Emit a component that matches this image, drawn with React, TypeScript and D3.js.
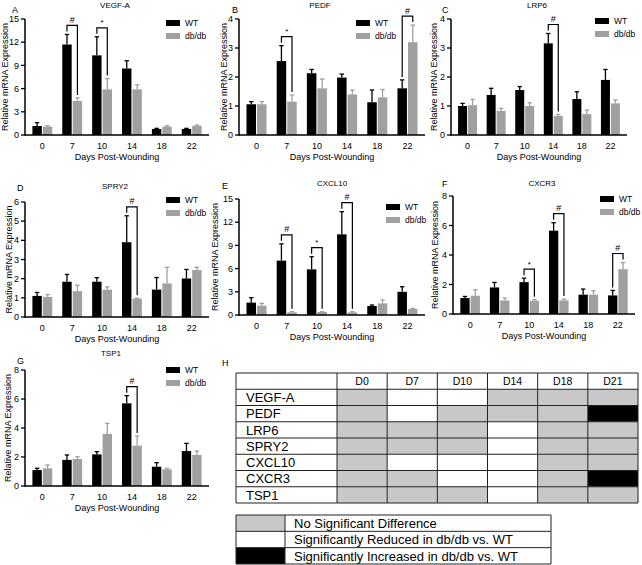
import * as d3 from "d3";

const FONT = "Liberation Sans, Arial, sans-serif";
const DAYS = ["0", "7", "10", "14", "18", "22"];
const GROUPS = ["WT", "db/db"];
const WT_COLOR = "#000000";
const DB_COLOR = "#a0a0a0";

// means and SEM (relative mRNA expression)
const vegfWT = [1.16, 11.7, 10.3, 8.6, 0.78, 0.78];
const vegfWTSem = [0.44, 1.3, 2.4, 1.0, 0.08, 0.08];
const vegfDB = [1.08, 4.4, 5.9, 5.9, 1.08, 1.2];
const vegfDBSem = [0.12, 0.4, 1.4, 0.6, 0.12, 0.1];
const vegfSig = ["", "#", "*", "", "", ""];

const pedfWT = [1.06, 2.55, 2.13, 1.98, 1.13, 1.61];
const pedfWTSem = [0.09, 0.53, 0.13, 0.12, 0.42, 0.29];
const pedfDB = [1.06, 1.15, 1.61, 1.4, 1.3, 3.2];
const pedfDBSem = [0.09, 0.23, 0.32, 0.15, 0.27, 0.59];
const pedfSig = ["", "*", "", "", "", "#"];

const lrp6WT = [1.0, 1.38, 1.55, 3.16, 1.24, 1.9];
const lrp6WTSem = [0.09, 0.23, 0.12, 0.34, 0.25, 0.36];
const lrp6DB = [1.03, 0.83, 1.0, 0.66, 0.72, 1.09];
const lrp6DBSem = [0.2, 0.09, 0.11, 0.05, 0.14, 0.12];
const lrp6Sig = ["", "", "", "#", "", ""];

const spry2WT = [1.1, 1.84, 1.84, 3.9, 1.43, 2.01];
const spry2WTSem = [0.18, 0.38, 0.21, 1.38, 0.63, 0.47];
const spry2DB = [1.05, 1.35, 1.43, 0.96, 1.75, 2.45];
const spry2DBSem = [0.12, 0.31, 0.14, 0.02, 0.84, 0.14];
const spry2Sig = ["", "", "", "#", "", ""];

const cxcl10WT = [1.6, 7.03, 5.9, 10.43, 1.16, 3.0];
const cxcl10WTSem = [0.64, 2.17, 1.64, 2.93, 0.13, 0.66];
const cxcl10DB = [1.2, 0.34, 0.39, 0.34, 1.5, 0.78];
const cxcl10DBSem = [0.3, 0.09, 0.04, 0.09, 0.44, 0.08];
const cxcl10Sig = ["", "#", "*", "#", "", ""];

const cxcr3WT = [1.08, 1.8, 2.16, 5.65, 1.31, 1.26];
const cxcr3WTSem = [0.11, 0.34, 0.27, 0.54, 0.38, 0.34];
const cxcr3DB = [1.24, 0.92, 0.9, 0.92, 1.31, 3.04];
const cxcr3DBSem = [0.4, 0.16, 0.07, 0.09, 0.27, 0.45];
const cxcr3Sig = ["", "", "*", "#", "", "#"];

const tsp1WT = [1.1, 1.8, 2.18, 5.7, 1.33, 2.41];
const tsp1WTSem = [0.12, 0.34, 0.19, 0.53, 0.28, 0.53];
const tsp1DB = [1.22, 1.86, 3.59, 2.78, 1.15, 2.14];
const tsp1DBSem = [0.23, 0.16, 0.73, 0.67, 0.07, 0.27];
const tsp1Sig = ["", "", "", "#", "", ""];

// summary table (H)
const TABLE_DAYS = ["D0", "D7", "D10", "D14", "D18", "D21"];
const GENES = ["VEGF-A", "PEDF", "LRP6", "SPRY2", "CXCL10", "CXCR3", "TSP1"];
const statusVEGF = ["ns", "down", "down", "ns", "ns", "ns"];
const statusPEDF = ["ns", "down", "ns", "ns", "ns", "up"];
const statusLRP6 = ["ns", "ns", "ns", "down", "ns", "ns"];
const statusSPRY2 = ["ns", "ns", "ns", "down", "ns", "ns"];
const statusCXCL10 = ["ns", "down", "down", "down", "ns", "ns"];
const statusCXCR3 = ["ns", "ns", "down", "down", "ns", "up"];
const statusTSP1 = ["ns", "ns", "ns", "down", "ns", "ns"];
const STATUS_KEYS = ["ns", "down", "up"];
const STATUS_LABELS = [
  "No Significant Difference",
  "Significantly Reduced in db/db vs. WT",
  "Significantly Increased in db/db vs. WT",
];
const statusColor = d3.scaleOrdinal<string, string>().domain(STATUS_KEYS).range(["#c8c8c8", "#ffffff", "#000000"]);

type PanelDef = {
  letter: string;
  title: string;
  wt: number[];
  wtSem: number[];
  db: number[];
  dbSem: number[];
  sig: string[];
  max: number;
  step: number;
  x0: number;
  x1: number;
  yTop: number;
  yZero: number;
  legend: [number, number];
  letterPos: [number, number];
  titlePos: [number, number];
  yLabelX: number;
};

const PANELS: PanelDef[] = [
  { letter: "A", title: "VEGF-A", wt: vegfWT, wtSem: vegfWTSem, db: vegfDB, dbSem: vegfDBSem, sig: vegfSig,
    max: 15, step: 3, x0: 25, x1: 209, yTop: 19, yZero: 135, legend: [166, 20], letterPos: [12, 13], titlePos: [115, 8], yLabelX: 8 },
  { letter: "B", title: "PEDF", wt: pedfWT, wtSem: pedfWTSem, db: pedfDB, dbSem: pedfDBSem, sig: pedfSig,
    max: 4, step: 1, x0: 239, x1: 425, yTop: 19, yZero: 135, legend: [356, 20], letterPos: [232, 13], titlePos: [320, 8], yLabelX: 227 },
  { letter: "C", title: "LRP6", wt: lrp6WT, wtSem: lrp6WTSem, db: lrp6DB, dbSem: lrp6DBSem, sig: lrp6Sig,
    max: 4, step: 1, x0: 451, x1: 627, yTop: 19, yZero: 135, legend: [595, 18], letterPos: [442, 13], titlePos: [537, 8], yLabelX: 437 },
  { letter: "D", title: "SPRY2", wt: spry2WT, wtSem: spry2WTSem, db: spry2DB, dbSem: spry2DBSem, sig: spry2Sig,
    max: 6, step: 1, x0: 25, x1: 209, yTop: 202, yZero: 317, legend: [166, 197], letterPos: [17, 191], titlePos: [115, 189], yLabelX: 12 },
  { letter: "E", title: "CXCL10", wt: cxcl10WT, wtSem: cxcl10WTSem, db: cxcl10DB, dbSem: cxcl10DBSem, sig: cxcl10Sig,
    max: 15, step: 3, x0: 239, x1: 425, yTop: 199, yZero: 315, legend: [386, 204], letterPos: [222, 189], titlePos: [332, 186], yLabelX: 218 },
  { letter: "F", title: "CXCR3", wt: cxcr3WT, wtSem: cxcr3WTSem, db: cxcr3DB, dbSem: cxcr3DBSem, sig: cxcr3Sig,
    max: 8, step: 2, x0: 453, x1: 635, yTop: 196, yZero: 314, legend: [600, 196], letterPos: [442, 187], titlePos: [542, 186], yLabelX: 438 },
  { letter: "G", title: "TSP1", wt: tsp1WT, wtSem: tsp1WTSem, db: tsp1DB, dbSem: tsp1DBSem, sig: tsp1Sig,
    max: 8, step: 2, x0: 25, x1: 209, yTop: 370, yZero: 486, legend: [166, 367], letterPos: [17, 364], titlePos: [111, 356], yLabelX: 11 },
];

const BarPanel = ({ p }: { p: PanelDef }) => {
  const x = d3.scaleBand().domain(DAYS).range([p.x0, p.x1]).paddingInner(0).paddingOuter(0.08);
  const xi = d3.scaleBand().domain(GROUPS).range([0, x.step()]).paddingInner(0.1).paddingOuter(0.48);
  const y = d3.scaleLinear().domain([0, p.max]).range([p.yZero, p.yTop]);
  const ticks = d3.range(0, p.max + p.step / 2, p.step);
  const bw = xi.bandwidth();

  const series = [
    { key: "WT", vals: p.wt, sem: p.wtSem, color: WT_COLOR },
    { key: "db/db", vals: p.db, sem: p.dbSem, color: DB_COLOR },
  ];

  return (
    <g>
      <text x={p.letterPos[0]} y={p.letterPos[1]} fontSize={9}>{p.letter}</text>
      <text x={p.titlePos[0]} y={p.titlePos[1]} fontSize={8} textAnchor="middle">{p.title}</text>

      {series.map((s) =>
        DAYS.map((d, i) => {
          const bx = (x(d) ?? 0) + (xi(s.key) ?? 0);
          const cx = bx + bw / 2;
          const top = y(s.vals[i]);
          const et = y(s.vals[i] + s.sem[i]);
          return (
            <g key={s.key + d}>
              <rect x={bx} y={top} width={bw} height={p.yZero - top} fill={s.color} />
              <line x1={cx} x2={cx} y1={top} y2={et} stroke={s.color} strokeWidth={1.3} />
              <line x1={cx - 2.2} x2={cx + 2.2} y1={et} y2={et} stroke={s.color} strokeWidth={1.3} />
            </g>
          );
        })
      )}

      {DAYS.map((d, i) => {
        if (!p.sig[i]) return null;
        const xa = (x(d) ?? 0) + (xi("WT") ?? 0) + bw / 2;
        const xb = (x(d) ?? 0) + (xi("db/db") ?? 0) + bw / 2;
        const ta = y(p.wt[i] + p.wtSem[i]);
        const tb = y(p.db[i] + p.dbSem[i]);
        const yb = Math.min(ta, tb) - 9;
        return (
          <g key={"sig" + d}>
            <path d={`M${xa},${ta - 3}V${yb}H${xb}V${tb - 3}`} fill="none" stroke="#000" strokeWidth={1.2} />
            <text x={(xa + xb) / 2} y={yb - 2.5} fontSize={p.sig[i] === "*" ? 8 : 9} textAnchor="middle">
              {p.sig[i]}
            </text>
          </g>
        );
      })}

      {/* y axis */}
      <line x1={p.x0} x2={p.x0} y1={p.yZero + 0.75} y2={p.yTop} stroke="#000" strokeWidth={1.5} />
      {ticks.map((t) => (
        <g key={t}>
          <line x1={p.x0 - 4} x2={p.x0} y1={y(t)} y2={y(t)} stroke="#000" strokeWidth={1.3} />
          <text x={p.x0 - 6} y={y(t)} dy="0.35em" fontSize={9} textAnchor="end">{t}</text>
        </g>
      ))}
      {/* x axis */}
      <line x1={p.x0} x2={p.x1} y1={p.yZero} y2={p.yZero} stroke="#000" strokeWidth={1.5} />
      {DAYS.map((d) => (
        <text key={"xl" + d} x={(x(d) ?? 0) + x.bandwidth() / 2} y={p.yZero + 14} fontSize={9} textAnchor="middle">
          {d}
        </text>
      ))}
      <text x={(p.x0 + p.x1) / 2} y={p.yZero + 25} fontSize={9} textAnchor="middle">Days Post-Wounding</text>
      <text
        transform={`translate(${p.yLabelX},${(p.yTop + p.yZero) / 2}) rotate(-90)`}
        fontSize={9}
        textAnchor="middle"
      >
        Relative mRNA Expression
      </text>

      {/* legend */}
      {series.map((s, k) => (
        <g key={"lg" + s.key} transform={`translate(${p.legend[0]},${p.legend[1] + k * 13})`}>
          <rect x={0} y={0} width={14} height={6} fill={s.color} />
          <text x={19} y={3} dy="0.35em" fontSize={8.5}>{s.key}</text>
        </g>
      ))}
    </g>
  );
};

const SummaryTable = () => {
  const statuses = [statusVEGF, statusPEDF, statusLRP6, statusSPRY2, statusCXCL10, statusCXCR3, statusTSP1];
  const rows = d3.scaleBand().domain(["header", ...GENES]).range([373, 503]);
  const cols = d3.scaleBand().domain(TABLE_DAYS).range([337, 638]);
  const left = 236;
  const right = 638;
  const lg = d3.scaleBand().domain(STATUS_KEYS).range([515, 564]);
  const lgLeft = 236, lgSplit = 285, lgRight = 551;

  return (
    <g>
      <text x={222} y={366} fontSize={9}>H</text>
      {GENES.map((g, r) =>
        TABLE_DAYS.map((d, c) => (
          <rect key={g + d} x={cols(d)} y={rows(g)} width={cols.bandwidth()} height={rows.bandwidth()}
            fill={statusColor(statuses[r][c])} />
        ))
      )}
      {/* grid lines */}
      {rows.domain().map((r) => (
        <line key={"h" + r} x1={left} x2={right} y1={rows(r)} y2={rows(r)} stroke="#222" strokeWidth={1} />
      ))}
      <line x1={left} x2={right} y1={503} y2={503} stroke="#222" strokeWidth={1} />
      <line x1={left} x2={left} y1={373} y2={503} stroke="#222" strokeWidth={1} />
      {TABLE_DAYS.map((d) => (
        <line key={"v" + d} x1={cols(d)} x2={cols(d)} y1={373} y2={503} stroke="#222" strokeWidth={1} />
      ))}
      <line x1={right} x2={right} y1={373} y2={503} stroke="#222" strokeWidth={1} />
      {TABLE_DAYS.map((d) => (
        <text key={"t" + d} x={(cols(d) ?? 0) + cols.bandwidth() / 2} y={(rows("header") ?? 0) + rows.bandwidth() / 2}
          dy="0.35em" fontSize={10.5} textAnchor="middle">{d}</text>
      ))}
      {GENES.map((g) => (
        <text key={"g" + g} x={246} y={(rows(g) ?? 0) + rows.bandwidth() / 2} dy="0.36em" fontSize={13}>{g}</text>
      ))}

      {/* key */}
      {STATUS_KEYS.map((k, i) => (
        <g key={"k" + k}>
          <rect x={lgLeft} y={lg(k)} width={lgSplit - lgLeft} height={lg.bandwidth()} fill={statusColor(k)} />
          <text x={294} y={(lg(k) ?? 0) + lg.bandwidth() / 2} dy="0.36em" fontSize={13}>{STATUS_LABELS[i]}</text>
          <line x1={lgLeft} x2={lgRight} y1={lg(k)} y2={lg(k)} stroke="#222" strokeWidth={1} />
        </g>
      ))}
      <line x1={lgLeft} x2={lgRight} y1={564} y2={564} stroke="#222" strokeWidth={1} />
      <line x1={lgLeft} x2={lgLeft} y1={515} y2={564} stroke="#222" strokeWidth={1} />
      <line x1={lgSplit} x2={lgSplit} y1={515} y2={564} stroke="#222" strokeWidth={1} />
      <line x1={lgRight} x2={lgRight} y1={515} y2={564} stroke="#222" strokeWidth={1} />
    </g>
  );
};

export default function App() {
  return (
    <svg
      width={642}
      height={565}
      style={{ position: "absolute", left: 0, top: 0, background: "#fff" }}
      fontFamily={FONT}
    >
      <rect width={642} height={565} fill="#fff" />
      {PANELS.map((p) => (
        <BarPanel key={p.letter} p={p} />
      ))}
      <SummaryTable />
    </svg>
  );
}
